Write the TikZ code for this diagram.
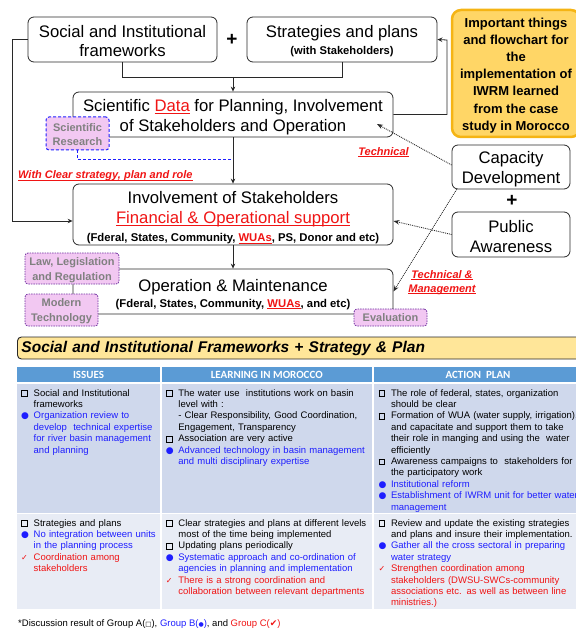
\documentclass[tikz,border=0pt]{standalone}
\usepackage{fontspec}
\setmainfont{Liberation Sans}
\newfontfamily\symfont{DejaVu Sans}
\newfontfamily\calfont{Carlito}
\usetikzlibrary{arrows.meta}

\definecolor{lineblk}{RGB}{40,40,40}
\definecolor{orangefill}{RGB}{255,214,102}
\definecolor{orangeedge}{RGB}{245,180,20}
\definecolor{pinkfill}{RGB}{242,200,242}
\definecolor{labelgray}{RGB}{128,128,128}
\definecolor{purpleedge}{RGB}{112,48,160}
\definecolor{dashblue}{RGB}{30,30,255}
\definecolor{txtblue}{RGB}{30,30,255}
\definecolor{txtred}{RGB}{240,20,20}
\definecolor{titlefill}{RGB}{255,230,153}
\definecolor{hdrblue}{RGB}{91,155,213}
\definecolor{rowa}{RGB}{207,216,236}
\definecolor{rowb}{RGB}{232,236,245}

% underline sitting just under the baseline
\newsavebox\ulbox
\newcommand\wul[1]{\sbox\ulbox{#1}\rlap{\rule[-1.6pt]{\wd\ulbox}{0.8pt}}\usebox\ulbox}
% invisible prop that lowers the text block inside a box
\newcommand\tgap[1]{\rule{0pt}{#1}}
% list markers
\newcommand\opensq{\raisebox{0.2pt}{\setlength\fboxsep{0pt}\setlength\fboxrule{1.15pt}\fbox{\rule{0pt}{4.5pt}\rule{4.5pt}{0pt}}}}
\newcommand\bluedot{{\color{txtblue}\symfont\fontsize{9}{9}\selectfont ●}}
\newcommand\redtick{{\color{txtred}\symfont\fontsize{8}{8}\selectfont ✓}}
% one list entry with hanging indent
\newcommand\entry[2]{\par\noindent\hangindent=12.5pt\hangafter=1\makebox[12.5pt][l]{\strut#1}#2}

\begin{document}
\begin{tikzpicture}[x=1pt,y=-1pt,
  box/.style={draw=lineblk, line width=0.8pt, rounded corners=6pt, fill=white, align=center, inner sep=0pt},
  big/.style={font=\fontsize{16.7}{20}\selectfont},
  plus/.style={font=\bfseries\fontsize{19}{19}\selectfont, inner sep=0pt},
  pinkbox/.style={fill=pinkfill, rounded corners=3pt, align=center, inner sep=0pt, text=labelgray, font=\bfseries\fontsize{11}{14.5}\selectfont},
  sciedge/.style={draw=dashblue, line width=1pt, dash pattern=on 3pt off 2pt},
  purpedge/.style={draw=purpleedge, line width=0.8pt, dash pattern=on 1.5pt off 1pt},
  conn/.style={draw=lineblk, line width=0.8pt},
  arr/.style={conn, -{Stealth[length=5pt,width=4.5pt]}},
  dotarr/.style={draw=lineblk, line width=0.9pt, densely dotted, -{Stealth[length=6pt,width=4.5pt]}},
  redlabel/.style={text=txtred, font=\bfseries\itshape\fontsize{11}{13.5}\selectfont, inner sep=0pt, align=center},
  hdr/.style={fill=hdrblue, text=white, font=\calfont\bfseries\fontsize{11}{12}\selectfont, minimum height=15, inner sep=0pt},
  cell/.style={anchor=north west, inner sep=0pt, text width=215pt, align=left, font=\fontsize{9.5}{11.4}\selectfont}
]
\useasboundingbox (0,0) rectangle (575,628);

% ---------------- flowchart ----------------
\node[box, minimum width=189, minimum height=45, font=\fontsize{16.7}{19}\selectfont] (sif) at (122.5,39.5) {\tgap{15.2pt}Social and Institutional\\frameworks};
\node[plus] (plusA) at (232,40) {+};
\node[box, minimum width=190, minimum height=45, font=\fontsize{16.7}{17}\selectfont] (sp) at (342,39.5)
  {\tgap{16.2pt}Strategies and plans\\{\bfseries\fontsize{11.2}{13}\selectfont (with Stakeholders)}};

\node[draw=orangeedge, line width=2.5pt, fill=orangefill, rounded corners=9pt, minimum width=128, minimum height=127,
      align=center, inner sep=0pt, font=\bfseries\fontsize{13}{17.1}\selectfont] (note) at (516,73.5)
  {\tgap{13.5pt}Important things\\and flowchart for\\the\\implementation of\\IWRM learned\\from the case\\study in Morocco};

\node[box, big, minimum width=320, minimum height=45] (data) at (233,114.5)
  {\tgap{18.2pt}Scientific \textcolor{txtred}{\wul{Data}} for Planning, Involvement\\of Stakeholders and Operation};

\node[box, minimum width=320, minimum height=61, font=\fontsize{16.7}{20}\selectfont] (inv) at (233,214.5)
  {\tgap{19.2pt}Involvement of Stakeholders\\\textcolor{txtred}{\wul{Financial \& Operational support}}\\[-2pt]
   {\bfseries\fontsize{11.3}{13}\selectfont (Fderal, States, Community, \textcolor{txtred}{\wul{WUAs}}, PS, Donor and etc)}};

\node[box, minimum width=320, minimum height=45, font=\fontsize{16.7}{16.5}\selectfont] (om) at (233,291.5)
  {\tgap{18.2pt}Operation \& Maintenance\\{\bfseries\fontsize{11.3}{13}\selectfont (Fderal, States, Community, \textcolor{txtred}{\wul{WUAs}}, and etc)}};

\node[box, big, minimum width=118, minimum height=44] (cap) at (511,167) {\tgap{16.2pt}Capacity\\Development};
\node[plus] (plusB) at (512,201) {+};
\node[box, big, minimum width=118, minimum height=45] (pub) at (511,234.5) {\tgap{16.2pt}Public\\Awareness};

% side notes
\node[pinkbox, sciedge, minimum width=63, minimum height=33, font=\bfseries\fontsize{11}{14}\selectfont] (sci) at (77.5,133.5) {\tgap{11pt}Scientific\\Research};
\node[pinkbox, purpedge, minimum width=94, minimum height=31, font=\bfseries\fontsize{11}{15}\selectfont] (law) at (72,268.5) {\tgap{11pt}Law, Legislation\\and Regulation};
\node[pinkbox, purpedge, minimum width=73, minimum height=32, font=\bfseries\fontsize{11}{14.7}\selectfont] (tech) at (61.5,310) {\tgap{11pt}Modern\\Technology};
\node[pinkbox, purpedge, minimum width=73, minimum height=17] (eval) at (390.5,317.5) {Evaluation};

\node[redlabel] (lbtech) at (383.5,152.5) {\wul{Technical}};
\node[redlabel, anchor=west] (lbclear) at (18,176) {\wul{With Clear strategy, plan and role}};
\node[redlabel] (lbtm) at (442,282.5) {\wul{Technical \&}\\\wul{Management}};

% connectors
\coordinate (join) at (233,77);
\coordinate (rise) at (447,40);
\coordinate (leftrail) at (12,39.5);
\coordinate (dashend) at (233,160);
\coordinate (techtip) at (377,124);

\draw[conn] (sif.south) |- (join);
\draw[conn] (sp.south) |- (join);
\draw[arr] (join) -- (data.north);
\draw[arr] (data.east) -| (rise) -- (sp.east);
\draw[arr] (sif.west) -- (leftrail) |- ([yshift=-6.5pt]inv.west);
\draw[arr] (data.south) -- (inv.north);
\draw[arr] (inv.south) -- (om.north);
\draw[sciedge] (sci.south) |- (dashend);

\draw[dotarr] ([yshift=2pt]cap.west) -- (techtip);
\draw[dotarr] (pub.west) -- ([yshift=-6.5pt]inv.east);
\draw[dotarr] ([xshift=5pt]cap.south west) -- (om.east);

% ---------------- table ----------------
\node[draw=lineblk, line width=0.9pt, fill=titlefill, rounded corners=4pt, anchor=west, minimum height=22,
      text width=556, inner xsep=4pt, inner ysep=0pt, align=left, font=\bfseries\itshape\fontsize{15.5}{17}\selectfont]
  (title) at (17,348) {Social and Institutional Frameworks + Strategy \& Plan};

\node[hdr, minimum width=143] (h1) at (88.5,374.5) {ISSUES};
\node[hdr, minimum width=210.5] (h2) at (266.75,374.5) {LEARNING IN MOROCCO};
\node[hdr, minimum width=209] (h3) at (478,374.5) {ACTION\ \ PLAN};

\fill[rowa] (17,383.5) rectangle (160,512.5);
\fill[rowa] (161.5,383.5) rectangle (372,512.5);
\fill[rowa] (373.5,383.5) rectangle (580,512.5);
\fill[rowb] (17,514) rectangle (160,609);
\fill[rowb] (161.5,514) rectangle (372,609);
\fill[rowb] (373.5,514) rectangle (580,609);

\node[cell] (c11) at (21,384.5) {%
  \entry{\opensq}{Social and Institutional\newline frameworks}%
  \entry{\bluedot}{{\color{txtblue}Organization review to\newline develop\ \ technical expertise\newline for river basin management\newline and planning}}\par};

\node[cell] (c12) at (165.7,384.5) {%
  \entry{\opensq}{The water use\ \ institutions work on basin\newline level with :\newline - Clear Responsibility, Good Coordination,\newline Engagement, Transparency}%
  \entry{\opensq}{Association are very active}%
  \entry{\bluedot}{{\color{txtblue}Advanced technology in basin management\newline and multi disciplinary expertise}}\par};

\node[cell] (c13) at (378.3,384.5) {%
  \entry{\opensq}{The role of federal, states, organization\newline should be clear}%
  \entry{\opensq}{Formation of WUA (water supply, irrigation),\newline and capacitate and support them to take\newline their role in manging and using the\ \ water\newline efficiently}%
  \entry{\opensq}{Awareness campaigns to\ \ stakeholders for\newline the participatory work}%
  \entry{\bluedot}{{\color{txtblue}Institutional reform}}%
  \entry{\bluedot}{{\color{txtblue}Establishment of IWRM unit for better water\newline management}}\par};

\node[cell] (c21) at (21,514.5) {%
  \entry{\opensq}{Strategies and plans}%
  \entry{\bluedot}{{\color{txtblue}No integration between units\newline in the planning process}}%
  \entry{\redtick}{{\color{txtred}Coordination among\newline stakeholders}}\par};

\node[cell] (c22) at (165.7,514.5) {%
  \entry{\opensq}{Clear strategies and plans at different levels\newline most of the time being implemented}%
  \entry{\opensq}{Updating plans periodically}%
  \entry{\bluedot}{{\color{txtblue}Systematic approach and co-ordination of\newline agencies in planning and implementation}}%
  \entry{\redtick}{{\color{txtred}There is a strong coordination and\newline collaboration between relevant departments}}\par};

\node[cell] (c23) at (378.3,514.5) {%
  \entry{\opensq}{Review and update the existing strategies\newline and plans and insure their implementation.}%
  \entry{\bluedot}{{\color{txtblue}Gather all the cross sectoral in preparing\newline water strategy}}%
  \entry{\redtick}{{\color{txtred}Strengthen coordination among\newline stakeholders (DWSU-SWCs-community\newline associations etc. as well as between line\newline ministries.)}}\par};

\node[anchor=base west, inner sep=0pt, font=\fontsize{9.5}{11}\selectfont] (foot) at (18,626)
  {*Discussion result of Group A({\symfont\fontsize{6.5}{8}\selectfont □}), \textcolor{txtblue}{Group B({\symfont\fontsize{6}{8}\selectfont ●})}, and \textcolor{txtred}{Group C({\symfont\fontsize{9}{10}\selectfont ✔})}};
\end{tikzpicture}
\end{document}
